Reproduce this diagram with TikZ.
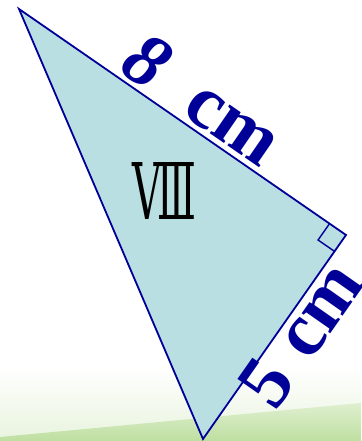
\documentclass[tikz,border=0pt]{standalone}
\usepackage{fontspec}
\usepackage{graphicx}
\setmainfont{Liberation Serif}
\newfontfamily\numfont{DejaVu Serif}
\usetikzlibrary{positioning, calc}

\definecolor{edgeblue}{HTML}{000099}
\definecolor{tealfill}{HTML}{B9DFE2}
\definecolor{grassgreen}{HTML}{BEDFA0}

\begin{document}
\begin{tikzpicture}[
    x=1pt, y=1pt,
    edge/.style={draw=edgeblue, line width=1.8pt, line join=miter},
    lenlabel/.style={text=edgeblue, font=\fontsize{76}{76}\selectfont\bfseries, inner sep=0pt, sloped}
]
    \useasboundingbox (0,0) rectangle (361,441);

    % background with grass at the bottom
    \fill[white] (0,0) rectangle (361,441);
    \shade[top color=white, bottom color=grassgreen!35] (0,0) rectangle (361,75);
    \shade[top color=grassgreen!50, bottom color=grassgreen] (0,0) -- (0,4) -- (361,38) -- (361,0) -- cycle;

    \coordinate (A) at (19,432);
    \coordinate (B) at (346,206);
    \coordinate (C) at (203,2);

    \fill[tealfill] (A) -- (B) -- (C) -- cycle;
    \draw[edge] (A) -- (B) -- (C) -- cycle;

    % right angle mark
    \coordinate (ra1) at ($(B)!20pt!(A)$);
    \coordinate (ra3) at ($(B)!20pt!(C)$);
    \draw[edge, line width=1.4pt] (ra1) -- ($(ra1)+(ra3)-(B)$) -- (ra3);

    % lengths
    \path (A) -- node[lenlabel, above=5pt, pos=0.51] (lab8) {\textit{8}\hspace{0.5em}cm} (B);
    \path (C) -- node[lenlabel, below=-6pt, pos=0.57] (lab5) {5\hspace{0.3em}cm} (B);

    \node (num) at (165,250) {\resizebox{64pt}{57pt}{\numfont Ⅷ}};
\end{tikzpicture}
\end{document}
